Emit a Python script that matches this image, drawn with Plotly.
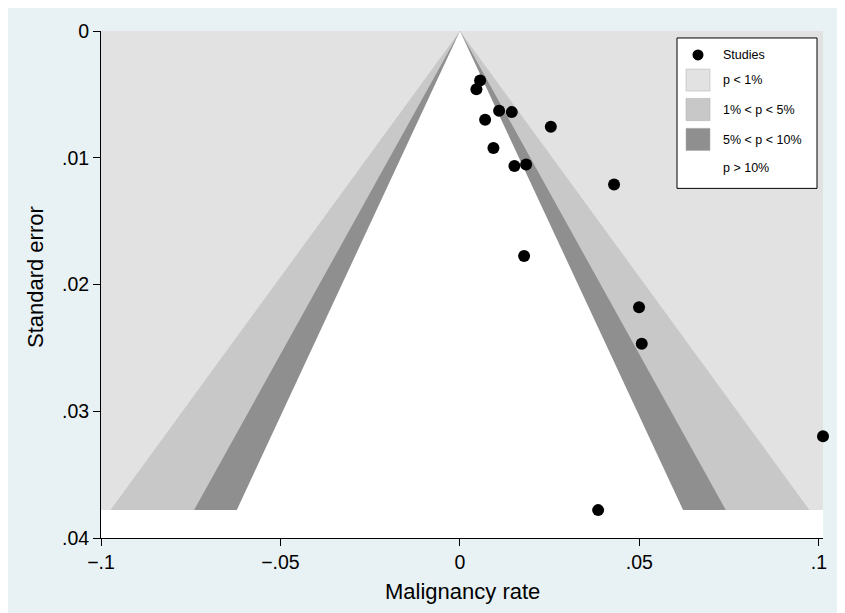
import plotly.graph_objects as go

# Study estimates (malignancy rate) and standard errors
rate = [0.00562, 0.00459, 0.01091, 0.01445, 0.00702, 0.02532, 0.00933, 0.01518,
        0.01844, 0.04294, 0.01788, 0.04990, 0.05065, 0.10115, 0.03850]
se = [0.00391, 0.00459, 0.00629, 0.00640, 0.00700, 0.00755, 0.00923, 0.01065,
      0.01054, 0.01211, 0.01775, 0.02180, 0.02467, 0.03198, 0.03780]

# contour significance levels (two-sided z values)
z_levels = {"p < 1%": 2.576, "1% < p < 5%": 1.96, "5% < p < 10%": 1.645}

x_ticks = [-0.1, -0.05, 0, 0.05, 0.1]
x_tick_text = ["\u2212.1", "\u2212.05", "0", ".05", ".1"]
y_ticks = [0, 0.01, 0.02, 0.03, 0.04]
y_tick_text = ["0", ".01", ".02", ".03", ".04"]

C_LIGHT = "#E2E2E2"
C_MED = "#C8C8C8"
C_DARK = "#8F8F8F"
BG = "#E8F1F3"
FONT = "Liberation Sans, Arial, Helvetica, sans-serif"

sem = max(se)
xmin = -0.1
xmax = max(rate)

fig = go.Figure()

# p < 1% region (whole shaded rectangle)
fig.add_trace(go.Scatter(x=[xmin, xmax, xmax, xmin, xmin], y=[0, 0, sem, sem, 0],
                         fill="toself", fillcolor=C_LIGHT, mode="lines",
                         line=dict(width=0, color=C_LIGHT), hoverinfo="skip",
                         showlegend=False))
for z, col in [(2.576, C_MED), (1.96, C_DARK), (1.645, "white")]:
    fig.add_trace(go.Scatter(x=[0, -z * sem, z * sem, 0], y=[0, sem, sem, 0],
                             fill="toself", fillcolor=col, mode="lines",
                             line=dict(width=0, color=col), hoverinfo="skip",
                             showlegend=False))

fig.add_trace(go.Scatter(x=rate, y=se, mode="markers", name="Studies",
                         marker=dict(color="black", size=12), cliponaxis=False,
                         showlegend=False))

# page offset (body margin) and plot geometry in figure pixels
OFF = 8
W, H = 845, 613
L, T = 101 - OFF, 29 - OFF
R, B = W - (823 - OFF), H - (538 - OFF)
PW, PH = W - L - R, H - T - B


def px(x):  # page pixel -> paper x
    return (x - OFF - L) / PW


def py(y):  # page pixel -> paper y
    return (H - B - (y - OFF)) / PH


shapes = [
    # legend box
    dict(type="rect", xref="paper", yref="paper", x0=px(677), x1=px(817), y0=py(187), y1=py(36),
         fillcolor="white", line=dict(color="black", width=1)),
    dict(type="circle", xref="paper", yref="paper", x0=px(692.5), x1=px(703.5), y0=py(58.5), y1=py(47.5),
         fillcolor="black", line=dict(color="black", width=0)),
]
sw = [(67.3, 89.3, C_LIGHT), (96.7, 119, C_MED), (126.7, 149, C_DARK)]
for y0, y1, col in sw:
    shapes.append(dict(type="rect", xref="paper", yref="paper", x0=px(686), x1=px(710),
                       y0=py(y1), y1=py(y0), fillcolor=col, line=dict(color="#AAAAAA", width=0.5)))

legend_labels = ["Studies"] + list(z_levels.keys()) + ["p > 10%"]
legend_y = [53, 78, 108, 138, 167]
annotations = []
for lab, yy in zip(legend_labels, legend_y):
    annotations.append(dict(text=lab, xref="paper", yref="paper", x=px(721), y=py(yy),
                            xanchor="left", yanchor="middle", showarrow=False,
                            font=dict(size=12.5, color="black", family=FONT)))

annotations.append(dict(text="Malignancy rate", xref="paper", yref="paper", x=0.5, y=py(592),
                        xanchor="center", yanchor="middle", showarrow=False,
                        font=dict(size=22, color="black", family=FONT)))
annotations.append(dict(text="Standard error", xref="paper", yref="paper", x=px(35), y=py(276),
                        xanchor="center", yanchor="middle", showarrow=False, textangle=-90,
                        font=dict(size=22, color="black", family=FONT)))

fig.update_layout(
    width=W, height=H,
    margin=dict(l=L, r=R, t=T, b=B),
    paper_bgcolor=BG, plot_bgcolor="white",
    font=dict(family=FONT, color="black"),
    shapes=shapes, annotations=annotations,
    showlegend=False,
    xaxis=dict(range=[xmin, xmax], tickvals=x_ticks, ticktext=x_tick_text,
               showgrid=False, zeroline=False, showline=True, linecolor="black",
               linewidth=1, ticks="outside", ticklen=7, tickcolor="black",
               tickfont=dict(size=19.5, family=FONT, color="black")),
    yaxis=dict(range=[0.04, 0], tickvals=y_ticks, ticktext=y_tick_text,
               showgrid=False, zeroline=False, showline=True, linecolor="black",
               linewidth=1, ticks="outside", ticklen=7, tickcolor="black",
               tickfont=dict(size=19.5, family=FONT, color="black")),
)

fig.write_html("out.html")
